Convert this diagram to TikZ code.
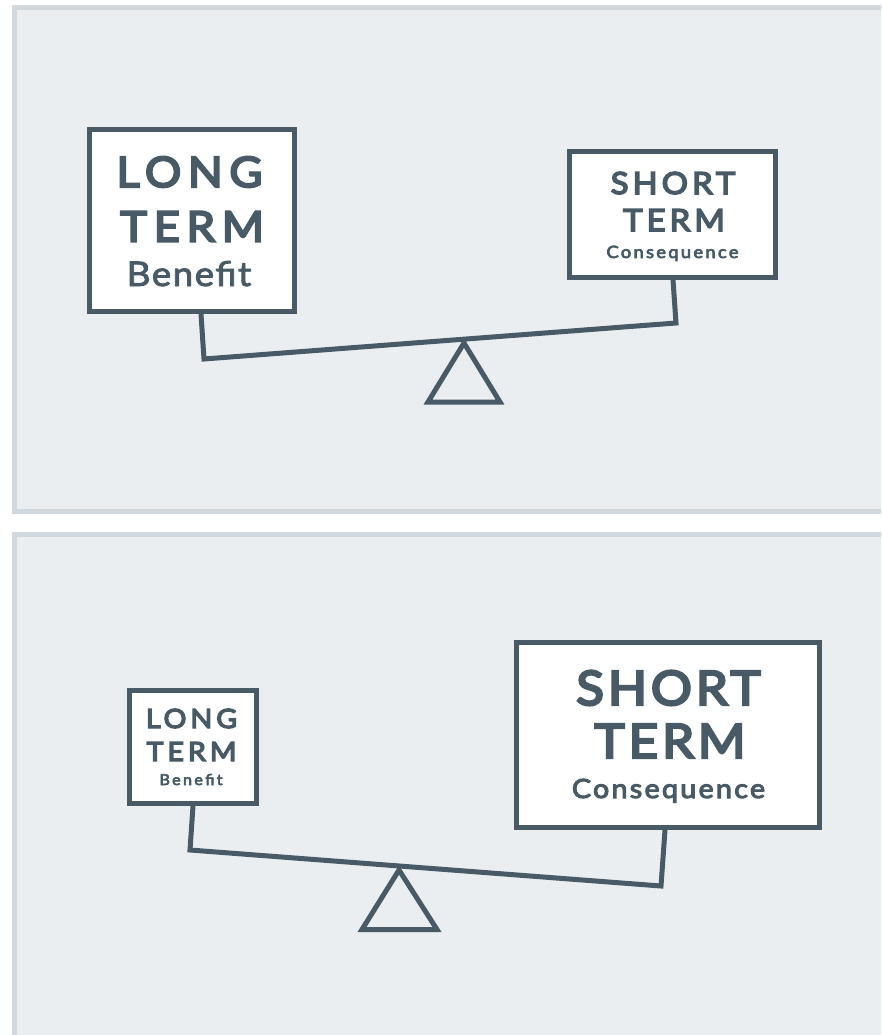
\documentclass[tikz,border=0pt]{standalone}
\usepackage{fontspec}
\setmainfont{Lato}
\newfontfamily\capfont[FakeStretch=1.08, FakeBold=5]{Lato}
\newfontfamily\subfont[FakeStretch=1.08, FakeBold=4]{Lato}
\newfontfamily\medfont[FakeStretch=1.08, FakeBold=2.5]{Lato}
\definecolor{panelfill}{HTML}{EAEEF1}
\definecolor{panelline}{HTML}{D0D8DD}
\definecolor{ink}{HTML}{475A66}
\begin{document}
\begin{tikzpicture}[x=1pt, y=-1pt,
  panel/.style={fill=panelfill, draw=panelline, line width=5pt},
  card/.style={draw=ink, fill=white, line width=5pt, inner sep=0pt},
  beam/.style={draw=ink, line width=5pt, line join=miter},
  capword/.style 2 args={font=\capfont\fontsize{#1}{#1}\selectfont\addfontfeature{LetterSpace=#2}, text=ink, anchor=base, inner sep=0pt},
  subword/.style 2 args={font=\subfont\fontsize{#1}{#1}\selectfont\addfontfeature{LetterSpace=#2}, text=ink, anchor=base, inner sep=0pt},
  thinword/.style 2 args={font=\medfont\fontsize{#1}{#1}\selectfont\addfontfeature{LetterSpace=#2}, text=ink, anchor=base, inner sep=0pt}]
\useasboundingbox (0,0) rectangle (881,1035);
\begin{scope}
\clip (0,0) rectangle (881,1035);
\draw[panel] (14.5,7.5) rectangle (900,511.5);
\draw[panel] (14.5,534.5) rectangle (900,1060);
\end{scope}
% top: long term outweighs
\coordinate (bl1) at (204,359);
\coordinate (br1) at (676,323);
\coordinate (piv1) at (464,343);
\draw[beam] (piv1) -- (428,402) -- (500,402) -- cycle;
\node[card, minimum width=205pt, minimum height=182pt] (lb1) at (192,220.5) {};
\node[card, minimum width=206pt, minimum height=126pt] (rb1) at (672.5,214.5) {};
\draw[beam] ([xshift=9pt]lb1.south) -- (bl1) -- (br1) -- ([xshift=0.5pt]rb1.south);
\node[capword={42}{16}] (lt1) at (189.5,187) {LONG};
\node[capword={42}{16}] (lm1) at (192,241.5) {TERM};
\node[thinword={34}{4.5}] (lw1) at (189,286) {Benefit};
\node[capword={30.5}{13}] (rt1) at (673,194) {SHORT};
\node[capword={30.5}{13}] (rm1) at (674,231) {TERM};
\node[subword={17}{13.5}] (rw1) at (672.5,258) {Consequence};
% bottom: short term outweighs
\coordinate (bl2) at (190,850);
\coordinate (br2) at (661,886);
\coordinate (piv2) at (399,870);
\draw[beam] (piv2) -- (362,929.5) -- (437,929.5) -- cycle;
\node[card, minimum width=127pt, minimum height=113pt] (lb2) at (193,747) {};
\node[card, minimum width=303pt, minimum height=185pt] (rb2) at (668,735) {};
\draw[beam] (lb2.south) -- (bl2) -- (br2) -- ([xshift=-3pt]rb2.south);
\node[capword={26.5}{15}] (lt2) at (191.5,728) {LONG};
\node[capword={26.5}{15}] (lm2) at (191.5,761) {TERM};
\node[subword={15}{15.5}] (lw2) at (191,785) {Benefit};
\node[capword={47.5}{8}] (rt2) at (668.5,705) {SHORT};
\node[capword={47.5}{8}] (rm2) at (670,758) {TERM};
\node[subword={26.5}{8.7}] (rw2) at (668.5,798) {Consequence};
\end{tikzpicture}
\end{document}
